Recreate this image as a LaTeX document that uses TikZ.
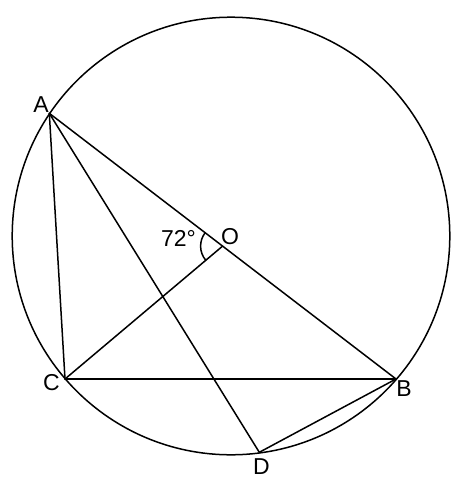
\documentclass[tikz,border=0pt]{standalone}
\usepackage{fontspec}
\setmainfont{Liberation Sans}
\usetikzlibrary{angles}
\begin{document}
\begin{tikzpicture}[x=1pt,y=-1pt,
  seg/.style={line width=1.5pt,line cap=round},
  lbl/.style={inner sep=0pt,font=\fontsize{23}{25}\selectfont}]
\useasboundingbox (0,0) rectangle (455,482);
\coordinate (Z) at (231,236);
\coordinate (A) at (49.3,113.3);
\coordinate (B) at (396,379);
\coordinate (C) at (65,379);
\coordinate (D) at (259.3,452.3);
\coordinate (O) at (222.6,246.1);
\draw[seg] (Z) circle[radius=218.8];
\draw[seg] (A) -- (B);
\draw[seg] (A) -- (C);
\draw[seg] (A) -- (D);
\draw[seg] (C) -- (B);
\draw[seg] (C) -- (O);
\draw[seg] (B) -- (D);
\pic[draw,seg,angle radius=22pt] {angle=A--O--C};
\node[lbl] (lA) at (41,104.5) {A};
\node[lbl] (lB) at (404,389) {B};
\node[lbl] (lC) at (51.5,382.5) {C};
\node[lbl] (lD) at (261.5,467) {D};
\node[lbl] (lO) at (230,237) {O};
\node[lbl] (l72) at (178.5,238) {72°};
\end{tikzpicture}
\end{document}
